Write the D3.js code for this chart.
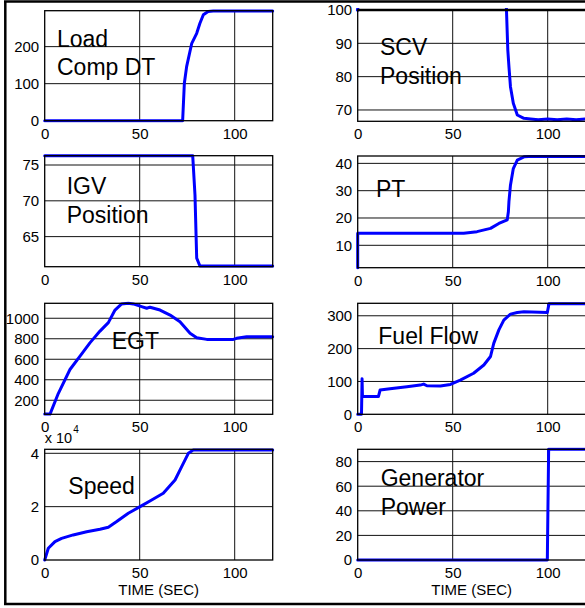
<!DOCTYPE html>
<html>
<head>
<meta charset="utf-8">
<script src="https://cdn.jsdelivr.net/npm/d3@7"></script>
<style>
  html, body { margin: 0; padding: 0; background: #fff; }
  svg { display: block; font-family: "Liberation Sans", Arial, sans-serif; }
</style>
</head>
<body>
<svg id="chart" width="585" height="608"></svg>
<script>
// ---------- DATA ----------
const xTicks = [0, 50, 100];
const xTitle = "TIME (SEC)";

const loadCompDT = [[0,0],[72.6,0],[73.5,101],[74.7,146],[77.4,209],[80,236],[81.7,263],[83.5,286],[86,295],[88.7,296],[120,296]];
const scvPosition = [[0,100],[0.4,104],[78,104],[78.3,100],[79,88],[79.6,83],[80.4,77],[81.9,72],[84,68.5],[87.5,67.5],[91,67.3],[95,67.1],[100,67.3],[105,67.1],[110,67.3],[115,67.1],[120,67.3]];
const igvPosition = [[0,76.3],[77.9,76.3],[79.1,70.8],[80,62],[81.7,60.9],[120,60.9]];
const ptValues = [[0,1.8],[0,14.4],[55.8,14.4],[62.8,15],[69.9,16.2],[74.3,18],[78.7,19.3],[79.3,22.3],[79.6,26],[80.4,32],[81.9,38.1],[84,41.2],[87.5,42.4],[90,42.5],[120,42.5]];
const egtValues = [[0,65],[2.8,65],[7.2,268],[13.3,500],[18.6,630],[23.8,760],[29.1,875],[33.5,957],[37,1080],[40.5,1140],[44,1146],[46.6,1140],[51,1114],[53.7,1098],[55.4,1108],[60.7,1080],[66,1031],[71.2,966],[76.5,853],[80,810],[85.3,794],[99.3,794],[101,804],[106.3,820],[120,820]];
const fuelFlow = [[0,0],[2.0,0],[2.3,108],[2.5,54],[10.9,54],[11.8,74],[17,78],[25.9,84],[32.9,89],[34.7,92],[36.4,87],[43.5,86],[48.8,91],[54,104],[61,125],[66.4,150],[69.9,176],[71.6,216],[74.3,257],[76.9,287],[80.4,305],[84,310],[87.5,312],[99.8,310],[100.7,337],[120,337]];
const speedValues = [[0,0],[1.9,0.44],[5.4,0.69],[8.9,0.81],[15,0.94],[22.1,1.06],[29.1,1.15],[33.5,1.23],[37.9,1.44],[44,1.75],[50.2,2.0],[56.3,2.25],[62.4,2.5],[68.6,3.0],[72.1,3.5],[75.6,4.0],[78.2,4.12],[120,4.12]];
const genPower = [[0,0],[99.8,0],[100.5,90],[120,90]];

const panels = [
  { name: ["Load", "Comp DT"], data: loadCompDT, yDomain: [0, 297], yTicks: [0,100,200],
    col: 0, top: 10.7, bottom: 120.7, lx: 57, ly: 46.7 },
  { name: ["SCV", "Position"], data: scvPosition, yDomain: [66.6, 100], yTicks: [70,80,90,100],
    col: 1, top: 10, bottom: 121.3, lx: 380, ly: 55, thickTop: true, dot: [0,100] },
  { name: ["IGV", "Position"], data: igvPosition, yDomain: [60.8, 76.3], yTicks: [65,70,75],
    col: 0, top: 155.7, bottom: 266.7, lx: 66.7, ly: 194.3 },
  { name: ["PT"], data: ptValues, yDomain: [1.8, 42.7], yTicks: [10,20,30,40],
    col: 1, top: 156, bottom: 267.7, lx: 376, ly: 197.3 },
  { name: ["EGT"], data: egtValues, yDomain: [63, 1146], yTicks: [200,400,600,800,1000],
    col: 0, top: 303.3, bottom: 414.3, lx: 111.7, ly: 349 },
  { name: ["Fuel Flow"], data: fuelFlow, yDomain: [0, 338], yTicks: [0,100,200,300],
    col: 1, top: 303.3, bottom: 414.3, lx: 378.3, ly: 344 },
  { name: ["Speed"], data: speedValues, yDomain: [0, 4.15], yTicks: [0,2,4],
    col: 0, top: 449.3, bottom: 560, lx: 68.3, ly: 494.3, exp: "4", title: true },
  { name: ["Generator", "Power"], data: genPower, yDomain: [0, 90], yTicks: [0,20,40,60,80],
    col: 1, top: 449.3, bottom: 560, lx: 380.7, ly: 486, title: true }
];

// ---------- DRAW ----------
const svg = d3.select("#chart");
const colX = [[44.7, 272.7], [357.7, 585.7]];

panels.forEach((p, i) => {
  const [x0, x1] = colX[p.col];
  const x = d3.scaleLinear().domain([0, 120]).range([x0, x1]);
  const y = d3.scaleLinear().domain(p.yDomain).range([p.bottom, p.top]);
  const g = svg.append("g");

  // grid
  g.selectAll("line.gx").data(xTicks.filter(t => t > 0)).join("line")
    .attr("x1", d => x(d)).attr("x2", d => x(d))
    .attr("y1", p.top).attr("y2", p.bottom)
    .attr("stroke", "#111").attr("stroke-width", 1);
  g.selectAll("line.gy").data(p.yTicks.filter(t => y(t) < p.bottom - 1 && y(t) > p.top + 1)).join("line")
    .attr("x1", x0).attr("x2", x1)
    .attr("y1", d => y(d)).attr("y2", d => y(d))
    .attr("stroke", "#111").attr("stroke-width", 1);

  // clip
  const cid = "clip" + i;
  svg.append("clipPath").attr("id", cid).append("rect")
    .attr("x", x0 - 2).attr("y", p.top - 2).attr("width", x1 - x0 + 4).attr("height", p.bottom - p.top + 4);

  // label
  const lab = g.append("text").attr("x", p.lx).attr("y", p.ly)
    .attr("font-size", 23).attr("fill", "#000");
  p.name.forEach((s, k) => {
    lab.append("tspan").attr("x", p.lx).attr("dy", k === 0 ? 0 : 28.5).text(s);
  });

  // line
  const line = d3.line().x(d => x(d[0])).y(d => y(d[1]));
  g.append("path").datum(p.data)
    .attr("clip-path", `url(#${cid})`)
    .attr("d", line).attr("fill", "none")
    .attr("stroke", "#0000ff").attr("stroke-width", 3)
    .attr("stroke-linejoin", "round").attr("stroke-linecap", "round");
  if (p.dot) {
    g.append("circle").attr("cx", x(p.dot[0])).attr("cy", y(p.dot[1])).attr("r", 1.8).attr("fill", "#0000ff");
  }

  // frame
  g.append("rect").attr("x", x0).attr("y", p.top).attr("width", x1 - x0).attr("height", p.bottom - p.top)
    .attr("fill", "none").attr("stroke", "#000").attr("stroke-width", 1.3);
  if (p.thickTop) {
    g.append("line").attr("x1", x0).attr("x2", x1).attr("y1", p.top).attr("y2", p.top)
      .attr("stroke", "#000").attr("stroke-width", 2.5);
  }

  // y axis
  const ya = d3.axisLeft(y).tickValues(p.yTicks).tickSize(0).tickPadding(5.5).tickFormat(d3.format("d"));
  const yg = g.append("g").attr("transform", `translate(${x0},0)`).call(ya);
  yg.select(".domain").remove();
  yg.selectAll("text").attr("font-size", 15).attr("font-family", "Liberation Sans, Arial, sans-serif").attr("fill", "#000");

  // x axis
  const xa = d3.axisBottom(x).tickValues(xTicks).tickSize(0).tickPadding(7.5).tickFormat(d3.format("d"));
  const xg = g.append("g").attr("transform", `translate(0,${p.bottom})`).call(xa);
  xg.select(".domain").remove();
  xg.selectAll("text").attr("font-size", 15).attr("font-family", "Liberation Sans, Arial, sans-serif").attr("fill", "#000");

  if (p.exp) {
    g.append("text").attr("x", x0).attr("y", p.top - 6).attr("font-size", 14.5).attr("fill", "#000").text("x 10");
    g.append("text").attr("x", x0 + 28.5).attr("y", p.top - 16).attr("font-size", 10).attr("fill", "#000").text(p.exp);
  }
  if (p.title) {
    g.append("text").attr("x", (x0 + x1) / 2).attr("y", 594.5).attr("text-anchor", "middle")
      .attr("font-size", 15).attr("fill", "#000").text(xTitle);
  }
});

// outer figure frame
svg.append("line").attr("x1", 5.3).attr("x2", 5.3).attr("y1", 1.5).attr("y2", 604.5).attr("stroke", "#000").attr("stroke-width", 2.5);
svg.append("line").attr("x1", 4).attr("x2", 585).attr("y1", 1.5).attr("y2", 1.5).attr("stroke", "#000").attr("stroke-width", 2.5);
svg.append("line").attr("x1", 4).attr("x2", 585).attr("y1", 604).attr("y2", 604).attr("stroke", "#000").attr("stroke-width", 2.5);
</script>
</body>
</html>
